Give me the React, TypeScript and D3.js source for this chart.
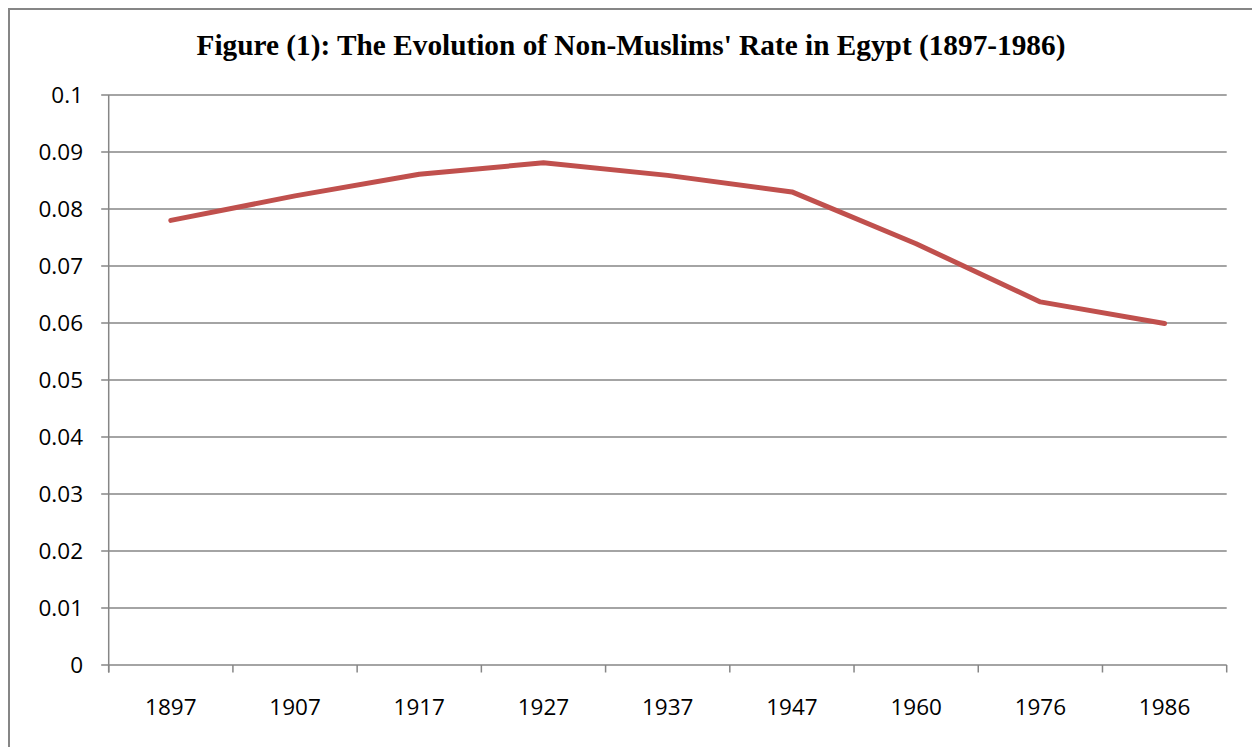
import React, { useEffect, useRef } from "react";
import * as d3 from "d3";

const years = ["1897", "1907", "1917", "1927", "1937", "1947", "1960", "1976", "1986"];
const nonMuslimRate = [0.078, 0.0823, 0.0861, 0.0881, 0.0859, 0.083, 0.0739, 0.0637, 0.0599];
const yTicks = [0, 0.01, 0.02, 0.03, 0.04, 0.05, 0.06, 0.07, 0.08, 0.09, 0.1];
const yTickLabels = ["0", "0.01", "0.02", "0.03", "0.04", "0.05", "0.06", "0.07", "0.08", "0.09", "0.1"];
const chartTitle = "Figure (1): The Evolution of Non-Muslims' Rate in Egypt (1897-1986)";

const W = 1252;
const H = 747;
const plot = { left: 108.7, right: 1226.7, top: 95, bottom: 665 };
const grey = "#868686";
const tickFont = "'Open Sans', 'Noto Sans', sans-serif";

const App = () => {
  const ref = useRef<SVGSVGElement>(null);

  useEffect(() => {
    const svg = d3.select(ref.current);
    svg.selectAll("*").remove();

    // chart area border (runs off the right and bottom of the page)
    svg
      .append("rect")
      .attr("x", 9)
      .attr("y", 9)
      .attr("width", W + 20)
      .attr("height", H + 20)
      .attr("fill", "#fff")
      .attr("stroke", grey)
      .attr("stroke-width", 2);

    svg
      .append("text")
      .attr("x", 631)
      .attr("y", 55)
      .attr("text-anchor", "middle")
      .style("font-family", "'Liberation Serif', 'Times New Roman', serif")
      .style("font-weight", "bold")
      .style("font-size", "29.3px")
      .text(chartTitle);

    const x = d3.scaleBand().domain(years).range([plot.left, plot.right]);
    const y = d3.scaleLinear().domain([0, 0.1]).range([plot.bottom, plot.top]);

    // gridlines + y ticks
    const grid = svg.append("g");
    grid
      .selectAll("line")
      .data(yTicks)
      .enter()
      .append("line")
      .attr("x1", plot.left - 7.5)
      .attr("x2", plot.right)
      .attr("y1", (d) => y(d))
      .attr("y2", (d) => y(d))
      .attr("stroke", grey)
      .attr("stroke-width", 1.5);

    svg
      .append("g")
      .selectAll("text")
      .data(yTicks)
      .enter()
      .append("text")
      .attr("x", 83)
      .attr("y", (d) => y(d))
      .attr("dy", "0.36em")
      .attr("text-anchor", "end")
      .style("font-family", tickFont)
      .style("font-size", "22.5px")
      .attr("fill", "#000")
      .text((d, i) => yTickLabels[i]);

    // y axis line
    svg
      .append("line")
      .attr("x1", plot.left)
      .attr("x2", plot.left)
      .attr("y1", plot.top)
      .attr("y2", plot.bottom + 7.5)
      .attr("stroke", grey)
      .attr("stroke-width", 1.5);

    // x axis ticks at category boundaries
    const bounds = years.map((d) => x(d) as number).concat([plot.right]);
    svg
      .append("g")
      .selectAll("line")
      .data(bounds)
      .enter()
      .append("line")
      .attr("x1", (d) => d)
      .attr("x2", (d) => d)
      .attr("y1", plot.bottom)
      .attr("y2", plot.bottom + 7.5)
      .attr("stroke", grey)
      .attr("stroke-width", 1.5);

    svg
      .append("g")
      .selectAll("text")
      .data(years)
      .enter()
      .append("text")
      .attr("x", (d) => (x(d) as number) + x.bandwidth() / 2)
      .attr("y", 715)
      .attr("text-anchor", "middle")
      .style("font-family", tickFont)
      .style("font-size", "22.5px")
      .attr("fill", "#000")
      .text((d) => d);

    // series line
    const line = d3
      .line<number>()
      .x((d, i) => (x(years[i]) as number) + x.bandwidth() / 2)
      .y((d) => y(d));

    svg
      .append("path")
      .datum(nonMuslimRate)
      .attr("d", line)
      .attr("fill", "none")
      .attr("stroke", "#C0504D")
      .attr("stroke-width", 5)
      .attr("stroke-linejoin", "round")
      .attr("stroke-linecap", "round");
  }, []);

  return (
    <div style={{ position: "fixed", left: 0, top: 0, width: W, height: H, overflow: "hidden", background: "#fff" }}>
      <svg ref={ref} width={W} height={H} style={{ display: "block" }} />
    </div>
  );
};

export default App;
